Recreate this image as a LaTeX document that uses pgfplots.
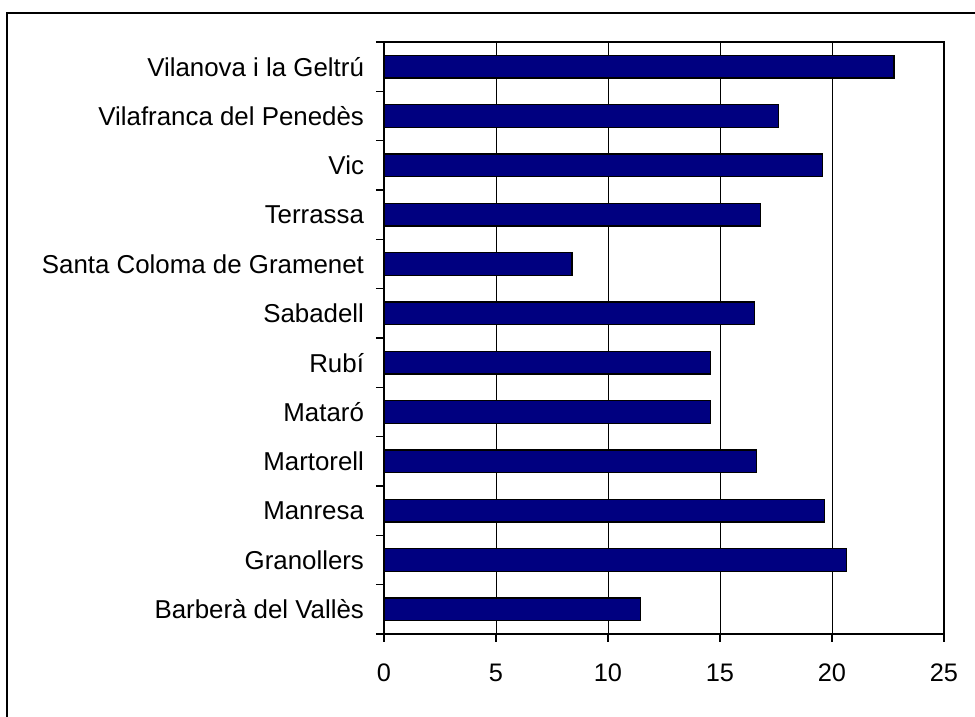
\documentclass[border=0pt]{standalone}
\usepackage{pgfplots}
\pgfplotsset{compat=1.18}
\usepackage{fontspec}
\setmainfont{Liberation Sans}
\definecolor{barblue}{HTML}{000080}
\begin{document}
\begin{tikzpicture}
\useasboundingbox (0,0) rectangle (731.25pt,537.75pt);
\draw[line width=1.3pt] (5.25pt,-2pt) -- (5.25pt,528.2pt) -- (733pt,528.2pt);
\begin{axis}[
  at={(288pt,62.25pt)}, anchor=south west,
  scale only axis, width=420pt, height=444pt,
  xbar, bar width=0.46,
  xmin=0, xmax=25, ymin=-0.5, ymax=11.5,
  xtick={0,5,...,25},
  ytick={0,...,11},
  yticklabels={Barberà del Vallès,Granollers,Manresa,Martorell,Mataró,Rubí,Sabadell,Santa Coloma de Gramenet,Terrassa,Vic,Vilafranca del Penedès,Vilanova i la Geltrú},
  minor ytick={-0.5,0.5,...,11.5},
  xtick pos=left, ytick pos=left,
  tick align=outside,
  major tick length=6pt, minor tick length=6pt,
  major y tick style={draw=none},
  minor y tick style={line width=1.1pt, black},
  major x tick style={line width=1.1pt, black},
  xmajorgrids, grid style={line width=0.6pt, black},
  axis line style={line width=0.6pt, black},
  /pgf/number format/assume math mode=true,
  xticklabel style={font=\fontsize{19}{22}\selectfont, text=black, yshift=-13pt},
  yticklabel style={font=\fontsize{19.4}{22}\selectfont, text=black, xshift=-5.5pt},
  clip=false,
]
\addplot[fill=barblue, draw=black, line width=1pt] coordinates {
  (11.45,0) (20.64,1) (19.66,2) (16.62,3) (14.57,4) (14.57,5)
  (16.53,6) (8.40,7) (16.80,8) (19.57,9) (17.60,10) (22.77,11)
};
\draw[line width=0.8pt, black] (rel axis cs:0,1) -- (rel axis cs:1,1) -- (rel axis cs:1,0);
\draw[line width=1.3pt, black] (rel axis cs:0,1) -- (rel axis cs:0,0) -- (rel axis cs:1,0);
\end{axis}
\end{tikzpicture}
\end{document}
